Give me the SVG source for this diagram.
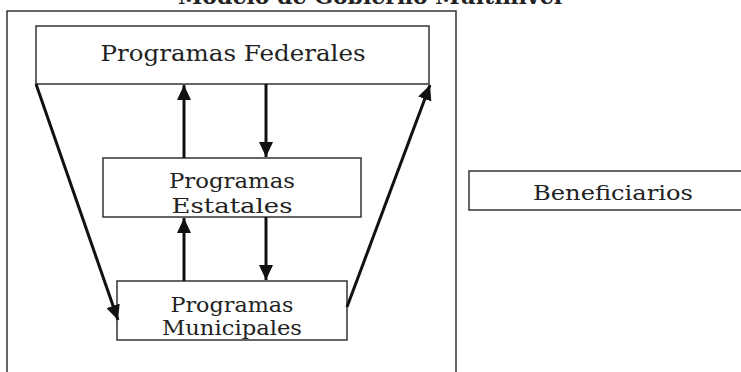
<svg xmlns="http://www.w3.org/2000/svg" width="741" height="372" viewBox="0 0 741 372">
<style>
.box{fill:#fff;stroke:#333;stroke-width:1.5}
.lbl{font-family:"DejaVu Serif","Liberation Serif",serif;fill:#222;text-anchor:middle}
.con{stroke:#111;stroke-width:3;fill:none}
</style>
<defs>
<marker id="ah" markerUnits="userSpaceOnUse" markerWidth="16" markerHeight="14" refX="15" refY="7" orient="auto">
<path d="M0,0 L15,7 L0,14 Z" fill="#111"/>
</marker>
</defs>
<rect x="0" y="0" width="741" height="372" fill="#fff"/>
<text class="lbl" x="370" y="4" font-size="22" font-weight="bold" textLength="384" lengthAdjust="spacingAndGlyphs">Modelo de Gobierno Multinivel</text>
<rect id="outer" x="7" y="11" width="449" height="380" fill="none" stroke="#333" stroke-width="1.5"/>
<g id="federales">
<rect class="box" x="36" y="26" width="393" height="58"/>
<text class="lbl" x="233" y="61" font-size="22" textLength="265" lengthAdjust="spacingAndGlyphs">Programas Federales</text>
</g>
<g id="estatales">
<rect class="box" x="103" y="158" width="258" height="59"/>
<text class="lbl" x="232" y="188" font-size="21" textLength="126" lengthAdjust="spacingAndGlyphs">Programas</text>
<text class="lbl" x="232" y="213" font-size="21" textLength="121" lengthAdjust="spacingAndGlyphs">Estatales</text>
</g>
<g id="municipales">
<rect class="box" x="117" y="281" width="230" height="59"/>
<text class="lbl" x="232" y="312" font-size="20" textLength="123" lengthAdjust="spacingAndGlyphs">Programas</text>
<text class="lbl" x="232" y="335" font-size="20" textLength="140" lengthAdjust="spacingAndGlyphs">Municipales</text>
</g>
<g id="beneficiarios">
<rect class="box" x="469" y="171" width="300" height="39"/>
<text class="lbl" x="613" y="200" font-size="21" textLength="160" lengthAdjust="spacingAndGlyphs">Beneficiarios</text>
</g>
<g id="connectors">
<line class="con" x1="184" y1="158" x2="184" y2="85" marker-end="url(#ah)"/>
<line class="con" x1="266" y1="84" x2="266" y2="157" marker-end="url(#ah)"/>
<line class="con" x1="184" y1="281" x2="184" y2="218" marker-end="url(#ah)"/>
<line class="con" x1="266" y1="217" x2="266" y2="280" marker-end="url(#ah)"/>
<line class="con" x1="36" y1="84" x2="118" y2="320" marker-end="url(#ah)"/>
<line class="con" x1="347" y1="307" x2="430" y2="85" marker-end="url(#ah)"/>
</g>
</svg>
